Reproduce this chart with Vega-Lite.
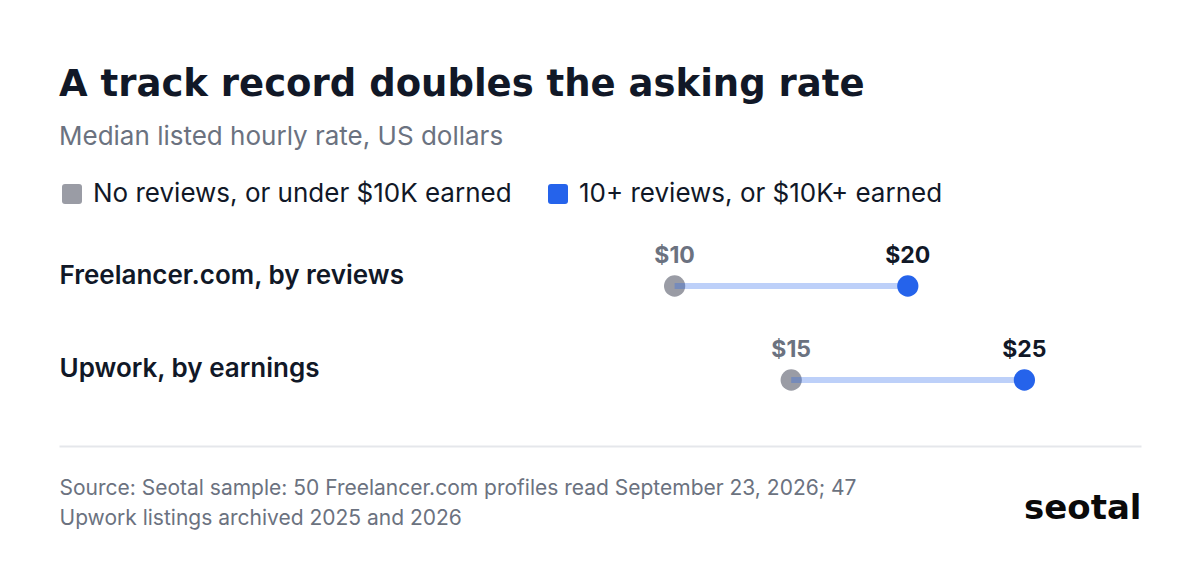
{
  "$schema": "https://vega.github.io/schema/vega-lite/v6.json",
  "autosize": {"type": "none"},
  "width": 1082,
  "height": 216,
  "padding": {"left": 59, "right": 59, "top": 225, "bottom": 131},
  "background": "#ffffff",
  "title": {
    "text": "A track record doubles the asking rate",
    "subtitle": "Median listed hourly rate, US dollars",
    "anchor": "start",
    "frame": "group",
    "font": "DejaVu Sans",
    "fontSize": 37,
    "fontWeight": "bold",
    "color": "#111827",
    "subtitleFont": "Inter",
    "subtitleFontSize": 26,
    "subtitleFontWeight": 400,
    "subtitleColor": "#6b7280",
    "subtitlePadding": 20,
    "offset": 30
  },
  "data": {
    "values": [
      {"row": "Freelancer.com, by reviews", "group": "No reviews, or under $10K earned", "rate": 10},
      {"row": "Freelancer.com, by reviews", "group": "10+ reviews, or $10K+ earned", "rate": 20},
      {"row": "Upwork, by earnings", "group": "No reviews, or under $10K earned", "rate": 15},
      {"row": "Upwork, by earnings", "group": "10+ reviews, or $10K+ earned", "rate": 25}
    ]
  },
  "encoding": {
    "y": {
      "field": "row",
      "type": "nominal",
      "sort": ["Freelancer.com, by reviews", "Upwork, by earnings"],
      "scale": {"type": "point", "padding": 0.649},
      "axis": {
        "title": null,
        "orient": "left",
        "domain": false,
        "ticks": false,
        "tickSize": 0,
        "grid": false,
        "labelAlign": "left",
        "labelBaseline": "alphabetic",
        "labelOffset": -3,
        "labelPadding": 0,
        "labelFont": "Inter",
        "labelFontSize": 26,
        "labelFontWeight": 600,
        "labelColor": "#111827",
        "labelLimit": 0,
        "minExtent": 0
      }
    }
  },
  "layer": [
    {
      "transform": [{"filter": "datum.group === 'No reviews, or under $10K earned'"}],
      "mark": {"type": "point", "filled": true, "opacity": 1, "size": 452},
      "encoding": {
        "x": {
          "field": "rate",
          "type": "quantitative",
          "scale": {"domain": [-16.4, 30], "nice": false, "zero": false},
          "axis": {
            "orient": "bottom",
            "offset": 5,
            "domain": true,
            "domainColor": "#e5e7eb",
            "domainWidth": 2,
            "ticks": false,
            "labels": false,
            "grid": false,
            "title": ["Source: Seotal sample: 50 Freelancer.com profiles read September 23, 2026; 47", "Upwork listings archived 2025 and 2026"],
            "titleAnchor": "start",
            "titleAlign": "left",
            "titleBaseline": "top",
            "titlePadding": 31,
            "titleFont": "Inter",
            "titleFontSize": 21,
            "titleFontWeight": 400,
            "titleColor": "#6b7280",
            "titleLineHeight": 30
          }
        },
        "color": {
          "field": "group",
          "type": "nominal",
          "scale": {
            "domain": ["No reviews, or under $10K earned", "10+ reviews, or $10K+ earned"],
            "range": ["#9a9ca5", "#2563eb"]
          },
          "legend": {
            "orient": "top",
            "direction": "horizontal",
            "title": null,
            "symbolType": "M-0.7,-1H0.7Q1,-1 1,-0.7V0.7Q1,1 0.7,1H-0.7Q-1,1 -1,0.7V-0.7Q-1,-1 -0.7,-1Z",
            "symbolSize": 400,
            "symbolStrokeWidth": 0,
            "symbolOpacity": 1,
            "labelFont": "Inter",
            "labelFontSize": 26,
            "labelColor": "#111827",
            "labelOffset": 8,
            "labelLimit": 0,
            "columnPadding": 33,
            "padding": 0,
            "offset": 18
          }
        }
      }
    },
    {
      "mark": {"type": "line", "color": "#2563eb", "opacity": 0.3, "strokeWidth": 6, "strokeCap": "butt"},
      "encoding": {
        "x": {"field": "rate", "type": "quantitative", "axis": null},
        "detail": {"field": "row"}
      }
    },
    {
      "transform": [{"filter": "datum.group === '10+ reviews, or $10K+ earned'"}],
      "mark": {"type": "point", "filled": true, "opacity": 1, "size": 452},
      "encoding": {
        "x": {
          "field": "rate",
          "type": "quantitative",
          "axis": {
            "orient": "bottom",
            "offset": 5,
            "domain": false,
            "ticks": false,
            "labels": false,
            "grid": false,
            "title": "seotal",
            "titleAnchor": "end",
            "titleAlign": "right",
            "titleBaseline": "top",
            "titlePadding": 45,
            "titleFont": "DejaVu Sans",
            "titleFontSize": 34,
            "titleFontWeight": "bold",
            "titleColor": "#0a0a0a"
          }
        },
        "color": {"field": "group", "type": "nominal"}
      }
    },
    {
      "transform": [{"filter": "datum.group === 'No reviews, or under $10K earned'"}],
      "mark": {"type": "text", "baseline": "alphabetic", "dy": -23, "font": "Inter", "fontSize": 23, "fontWeight": 700, "color": "#6b7280"},
      "encoding": {
        "x": {"field": "rate", "type": "quantitative", "axis": null},
        "text": {"field": "rate", "type": "quantitative", "format": "$,.0f"}
      }
    },
    {
      "transform": [{"filter": "datum.group === '10+ reviews, or $10K+ earned'"}],
      "mark": {"type": "text", "baseline": "alphabetic", "dy": -23, "font": "Inter", "fontSize": 23, "fontWeight": 700, "color": "#111827"},
      "encoding": {
        "x": {"field": "rate", "type": "quantitative", "axis": null},
        "text": {"field": "rate", "type": "quantitative", "format": "$,.0f"}
      }
    }
  ],
  "resolve": {"axis": {"x": "independent"}},
  "config": {"view": {"stroke": null}}
}
